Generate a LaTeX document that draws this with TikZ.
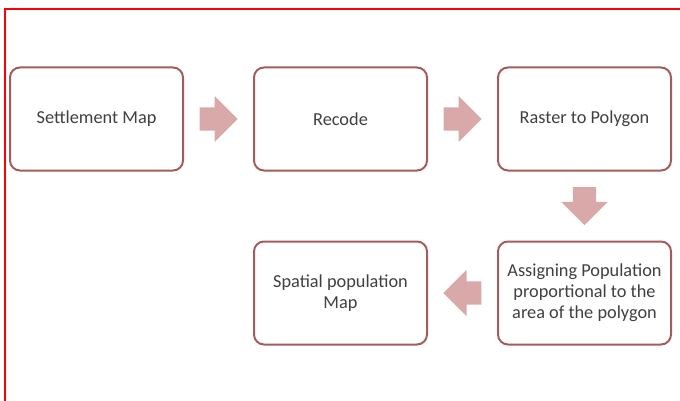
\documentclass[tikz,border=0pt]{standalone}
\usepackage{fontspec}
\setmainfont{Carlito}
\usetikzlibrary{positioning,shapes.arrows,calc}
\definecolor{boxline}{HTML}{A65B5B}
\definecolor{arrowfill}{HTML}{D9A9A9}
\definecolor{textgray}{HTML}{404040}

\begin{document}
\begin{tikzpicture}[
  x=1pt, y=1pt,
  font=\fontsize{18.3}{21}\selectfont, text=textgray,
  node distance=69pt and 69pt,
  stage/.style={draw=boxline, line width=2pt, rounded corners=10pt,
                fill=white, align=center, inner sep=2pt,
                minimum width=173pt, minimum height=103pt},
  flow/.style={single arrow, fill=arrowfill, draw=none,
               inner xsep=0pt, inner ysep=11.5pt, minimum height=38pt,
               single arrow head extend=11.5pt}
]
\useasboundingbox (0,0) rectangle (680,-401);
\draw[red, line width=2pt] (5,-401) -- (5,-9) -- (680,-9);

\node[stage] (settle) at (96.5,-119) {Settlement Map};
\node[stage, right=of settle] (recode) {Recode};
\node[stage, right=of recode] (raster) {Raster to Polygon};
\node[stage, below=of raster] (assign)
  {Assigning Population\\proportional to the\\area of the polygon};
\node[stage, left=of assign] (spatial) {Spatial population\\Map};

\node[flow, right=15.5pt of settle, anchor=tail] (step1) {};
\node[flow, right=15.5pt of recode, anchor=tail] (step2) {};
\node[flow, rotate=-90, below=15.5pt of raster, anchor=tail] (step3) {};
\node[flow, rotate=180, left=15.5pt of assign, anchor=tail] (step4) {};
\end{tikzpicture}
\end{document}
